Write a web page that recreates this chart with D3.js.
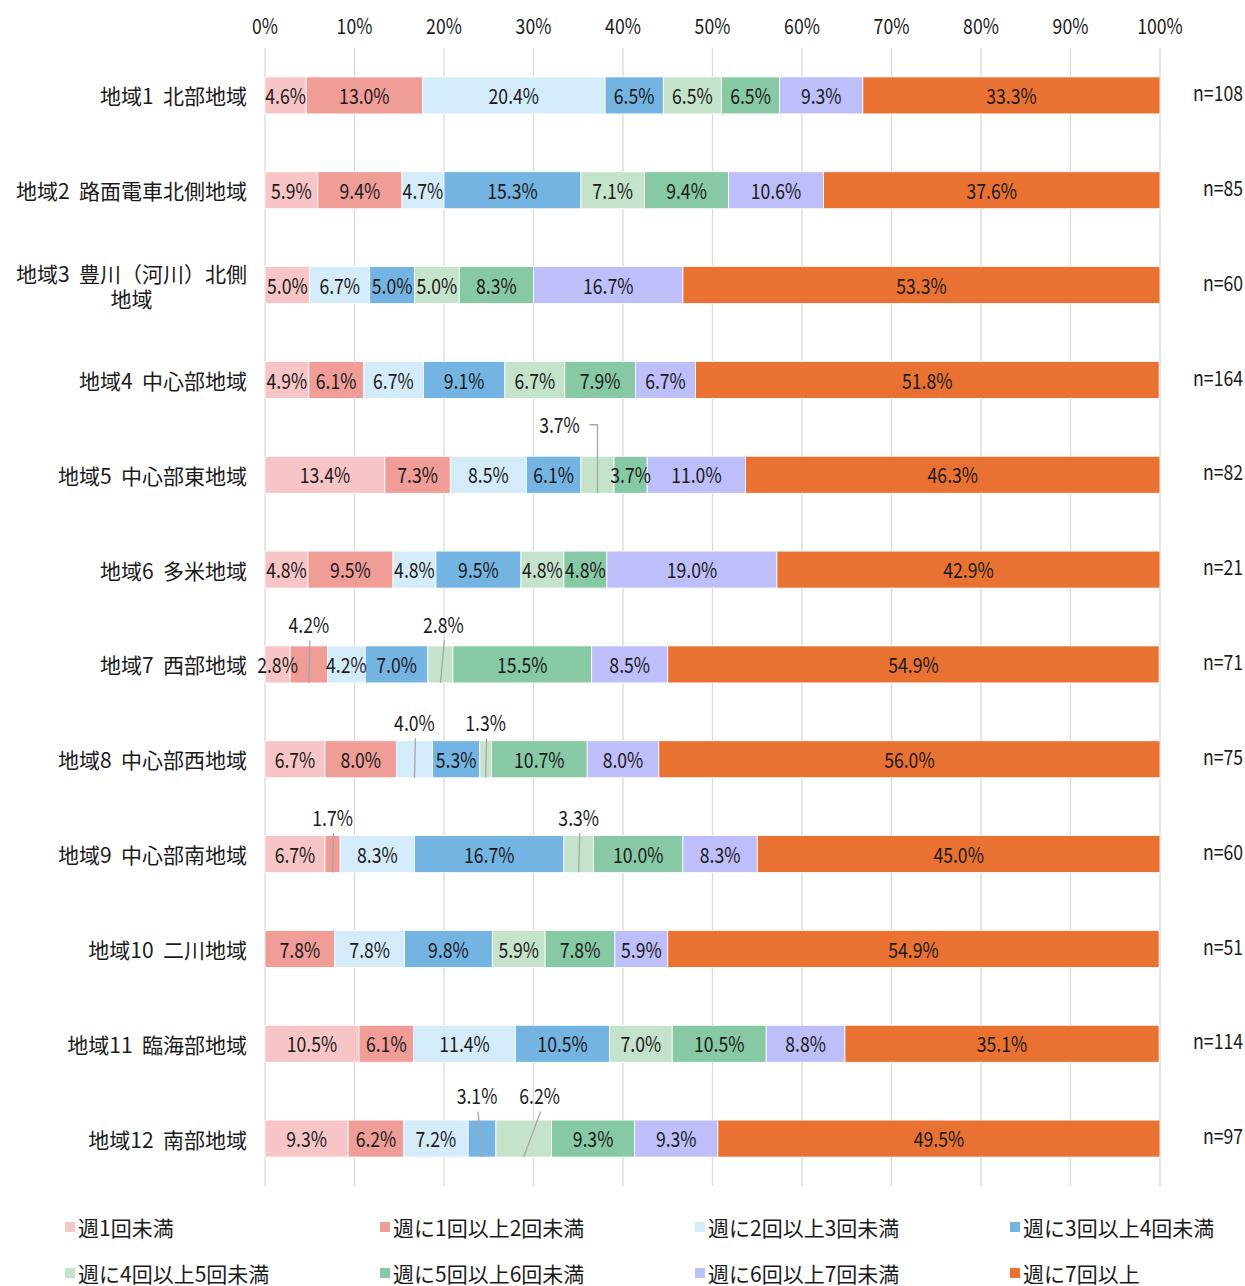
<!DOCTYPE html>
<html>
<head>
<meta charset="utf-8">
<script src="https://cdn.jsdelivr.net/npm/d3@7"></script>
<style>
	body { margin: 0; background: #fff; }
	svg text { font-family: 'Noto Sans CJK JP', 'Noto Sans', sans-serif; fill: #1a1a1a; }
</style>
</head>
<body>
<svg id="chart" width="1245" height="1286"></svg>
<script>
var regions = [
	'地域1  北部地域',
	'地域2  路面電車北側地域',
	'地域3  豊川（河川）北側\n地域',
	'地域4  中心部地域',
	'地域5  中心部東地域',
	'地域6  多米地域',
	'地域7  西部地域',
	'地域8  中心部西地域',
	'地域9  中心部南地域',
	'地域10  二川地域',
	'地域11  臨海部地域',
	'地域12  南部地域'
];

var sampleSizes = [ 108, 85, 60, 164, 82, 21, 71, 75, 60, 51, 114, 97 ];

var categories = [
	'週1回未満',
	'週に1回以上2回未満',
	'週に2回以上3回未満',
	'週に3回以上4回未満',
	'週に4回以上5回未満',
	'週に5回以上6回未満',
	'週に6回以上7回未満',
	'週に7回以上'
];

// one row per region, one value (%) per category
var shares = [
	[ 4.6, 13.0, 20.4, 6.5, 6.5, 6.5, 9.3, 33.3 ],
	[ 5.9, 9.4, 4.7, 15.3, 7.1, 9.4, 10.6, 37.6 ],
	[ 5.0, 0, 6.7, 5.0, 5.0, 8.3, 16.7, 53.3 ],
	[ 4.9, 6.1, 6.7, 9.1, 6.7, 7.9, 6.7, 51.8 ],
	[ 13.4, 7.3, 8.5, 6.1, 3.7, 3.7, 11.0, 46.3 ],
	[ 4.8, 9.5, 4.8, 9.5, 4.8, 4.8, 19.0, 42.9 ],
	[ 2.8, 4.2, 4.2, 7.0, 2.8, 15.5, 8.5, 54.9 ],
	[ 6.7, 8.0, 4.0, 5.3, 1.3, 10.7, 8.0, 56.0 ],
	[ 6.7, 1.7, 8.3, 16.7, 3.3, 10.0, 8.3, 45.0 ],
	[ 0, 7.8, 7.8, 9.8, 5.9, 7.8, 5.9, 54.9 ],
	[ 10.5, 6.1, 11.4, 10.5, 7.0, 10.5, 8.8, 35.1 ],
	[ 9.3, 6.2, 7.2, 3.1, 6.2, 9.3, 9.3, 49.5 ]
];

var ticks = [ 0, 10, 20, 30, 40, 50, 60, 70, 80, 90, 100 ];

var colors = [ '#F8C5C6', '#F09C97', '#D4EBF9', '#74B4E2', '#C5E3CB', '#87C9A5', '#BEBEFB', '#E97233' ];

// small segments whose labels sit above the bar with a leader line
var callouts = [
	{ row: 4, cat: 4, dx: -38, dy: -50, elbow: true },
	{ row: 6, cat: 1, dx: 0, dy: -40 },
	{ row: 6, cat: 4, dx: 3, dy: -40 },
	{ row: 7, cat: 2, dx: 0, dy: -37 },
	{ row: 7, cat: 4, dx: 0, dy: -37 },
	{ row: 8, cat: 1, dx: 0, dy: -37 },
	{ row: 8, cat: 4, dx: 0, dy: -37 },
	{ row: 11, cat: 3, dx: -5, dy: -43 },
	{ row: 11, cat: 4, dx: 16, dy: -43 }
];

var svg = d3.select( '#chart' );
var squeeze = 0.84;

var x = d3.scaleLinear().domain( [ 0, 100 ] ).range( [ 265, 1160 ] );
var y = d3.scaleBand().domain( d3.range( regions.length ) ).range( [ 48, 1186 ] ).paddingInner( 0.61 ).paddingOuter( 0.305 );
function rowCenter( i ) { return y( i ) + y.bandwidth() / 2; }

function fmt( v ) { return v.toFixed( 1 ) + '%'; }

// gridlines
svg.append( 'g' ).selectAll( 'line' )
	.data( ticks )
	.enter()
	.append( 'line' )
	.attr( 'x1', function ( d ) { return x( d ); } )
	.attr( 'x2', function ( d ) { return x( d ); } )
	.attr( 'y1', 48 )
	.attr( 'y2', 1186 )
	.attr( 'stroke', '#d9d9d9' )
	.attr( 'stroke-width', 1.3 );

// top axis labels
svg.append( 'g' ).selectAll( 'text' )
	.data( ticks )
	.enter()
	.append( 'text' )
	.attr( 'transform', function ( d ) { return 'translate(' + x( d ) + ',25) scale(' + squeeze + ',1)'; } )
	.attr( 'text-anchor', 'middle' )
	.attr( 'dominant-baseline', 'central' )
	.style( 'font-size', '21px' )
	.text( function ( d ) { return d + '%'; } );

// stacked segments
var stacked = shares.map( function ( row, i ) {
	var acc = 0;
	return row.map( function ( v, c ) {
		var seg = { row: i, cat: c, value: v, x0: acc, x1: acc + v };
		acc += v;
		return seg;
	} );
} );
var segments = d3.merge( stacked );

function isCallout( d ) {
	return callouts.some( function ( c ) { return c.row === d.row && c.cat === d.cat; } );
}

svg.append( 'g' ).selectAll( 'rect' )
	.data( segments.filter( function ( d ) { return d.value > 0; } ) )
	.enter()
	.append( 'rect' )
	.attr( 'x', function ( d ) { return x( d.x0 ); } )
	.attr( 'width', function ( d ) { return Math.min( x( d.x1 ), x( 100 ) ) - x( d.x0 ); } )
	.attr( 'y', function ( d ) { return y( d.row ); } )
	.attr( 'height', y.bandwidth() )
	.attr( 'fill', function ( d ) { return colors[d.cat]; } )
	.attr( 'stroke', '#fff' )
	.attr( 'stroke-width', 0.8 );

// labels inside the bars
svg.append( 'g' ).selectAll( 'text' )
	.data( segments.filter( function ( d ) { return d.value > 0 && !isCallout( d ); } ) )
	.enter()
	.append( 'text' )
	.attr( 'transform', function ( d ) {
		return 'translate(' + x( ( d.x0 + Math.min( d.x1, 100 ) ) / 2 ) + ',' + rowCenter( d.row ) + ') scale(' + squeeze + ',1)';
	} )
	.attr( 'text-anchor', 'middle' )
	.attr( 'dominant-baseline', 'central' )
	.style( 'font-size', '21px' )
	.text( function ( d ) { return fmt( d.value ); } );

// callout labels with leader lines
svg.append( 'g' ).selectAll( 'g' )
	.data( callouts )
	.enter()
	.append( 'g' )
	.each( function ( c ) {
		var seg = stacked[c.row][c.cat];
		var mid = x( ( seg.x0 + seg.x1 ) / 2 );
		var bottom = y( c.row ) + y.bandwidth();
		var lx = mid + c.dx;
		var ly = rowCenter( c.row ) + c.dy;
		var g = d3.select( this );
		g.append( 'text' )
			.attr( 'transform', 'translate(' + lx + ',' + ly + ') scale(' + squeeze + ',1)' )
			.attr( 'text-anchor', 'middle' )
			.attr( 'dominant-baseline', 'central' )
			.style( 'font-size', '21px' )
			.text( fmt( seg.value ) );
		var pts = c.elbow
			? [ [ lx + 30, ly ], [ mid, ly ], [ mid, bottom ] ]
			: [ [ lx + 1, ly + 16 ], [ mid, bottom ] ];
		g.append( 'path' )
			.attr( 'd', d3.line()( pts ) )
			.attr( 'fill', 'none' )
			.attr( 'stroke', '#a6a6a6' )
			.attr( 'stroke-width', 1.3 );
	} );

// region labels
svg.append( 'g' ).selectAll( 'text' )
	.data( regions )
	.enter()
	.append( 'text' )
	.style( 'font-size', '21px' )
	.style( 'white-space', 'pre' )
	.each( function ( d, i ) {
		var lines = d.split( '\n' );
		var t = d3.select( this );
		if ( lines.length === 1 ) {
			t.attr( 'x', 247 ).attr( 'y', rowCenter( i ) )
				.attr( 'text-anchor', 'end' )
				.attr( 'dominant-baseline', 'central' )
				.text( d );
		} else {
			t.attr( 'text-anchor', 'middle' );
			lines.forEach( function ( line, k ) {
				t.append( 'tspan' )
					.attr( 'x', 0 )
					.attr( 'y', rowCenter( i ) - 12 + k * 25 )
					.attr( 'dominant-baseline', 'central' )
					.text( line );
			} );
			var w = d3.max( t.selectAll( 'tspan' ).nodes(), function ( n ) { return n.getComputedTextLength(); } );
			t.selectAll( 'tspan' ).attr( 'x', 247 - w / 2 );
		}
	} );

// sample sizes
svg.append( 'g' ).selectAll( 'text' )
	.data( sampleSizes )
	.enter()
	.append( 'text' )
	.attr( 'transform', function ( d, i ) { return 'translate(1243,' + ( rowCenter( i ) - 3 ) + ') scale(' + squeeze + ',1)'; } )
	.attr( 'text-anchor', 'end' )
	.attr( 'dominant-baseline', 'central' )
	.style( 'font-size', '21px' )
	.text( function ( d ) { return 'n=' + d; } );

// legend
var legend = svg.append( 'g' ).selectAll( 'g' )
	.data( categories )
	.enter()
	.append( 'g' )
	.attr( 'transform', function ( d, i ) {
		return 'translate(' + ( 65 + ( i % 4 ) * 315 ) + ',' + ( 1227 + Math.floor( i / 4 ) * 46 ) + ')';
	} );

legend.append( 'rect' )
	.attr( 'x', 0 )
	.attr( 'y', -5 )
	.attr( 'width', 10 )
	.attr( 'height', 10 )
	.attr( 'fill', function ( d, i ) { return colors[i]; } );

legend.append( 'text' )
	.attr( 'x', 13 )
	.attr( 'y', 0 )
	.attr( 'dominant-baseline', 'central' )
	.style( 'font-size', '21px' )
	.text( function ( d ) { return d; } );
</script>
</body>
</html>
